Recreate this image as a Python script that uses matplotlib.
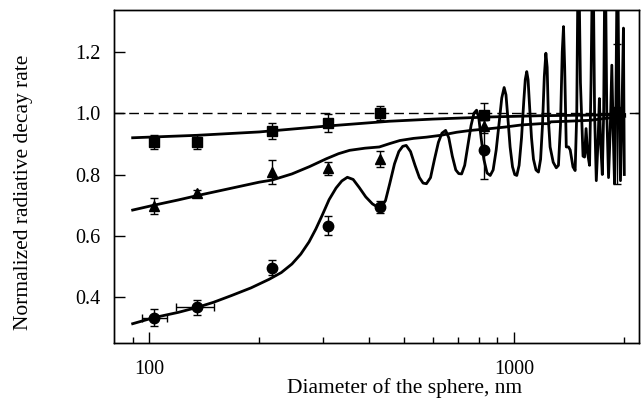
import numpy as np
import matplotlib.pyplot as plt
from matplotlib.ticker import FixedLocator, NullFormatter

plt.rcParams['font.family'] = ['Liberation Serif', 'DejaVu Serif']
plt.rcParams['font.size'] = 15.5

# pomiary: srednice kul (nm)
d_exp = [103, 135, 217, 308, 429, 826, 1920]

# kwadraty
sq_y = [0.906, 0.906, 0.942, 0.968, 1.001, 0.993, 1.000]
sq_err = [0.024, 0.022, 0.025, 0.030, 0.023, 0.015, 0.020]

# trojkaty
tr_y = [0.698, 0.739, 0.808, 0.820, 0.851, 0.957, 0.990]
tr_err = [0.027, 0.010, 0.040, 0.020, 0.025, 0.020, 0.020]

# kola (bledy niesymetryczne)
ci_y = [0.333, 0.366, 0.496, 0.633, 0.693, 0.879, 1.000]
ci_err_lo = [0.027, 0.023, 0.025, 0.030, 0.020, 0.093, 0.230]
ci_err_hi = [0.027, 0.023, 0.025, 0.030, 0.020, 0.155, 0.225]
ci_xerr_lo = [7.6, 16.8, 0, 0, 0, 0, 0]
ci_xerr_hi = [8.8, 15.5, 0, 0, 0, 0, 0]

# krzywe teoretyczne
top_d = [90, 135, 200, 305, 456, 600, 861, 1181, 1600, 2010]
top_y = [0.920, 0.928, 0.939, 0.958, 0.974, 0.981, 0.988, 0.992, 0.994, 0.996]

mid_d = [90, 103, 120, 135, 160, 200, 217, 246, 275, 305, 330, 354, 390, 427,
         456, 486, 530, 575, 629, 696, 760, 861, 945, 1050, 1181, 1245, 1260,
         1400, 1615, 1800, 2010]
mid_y = [0.684, 0.700, 0.717, 0.731, 0.750, 0.775, 0.782, 0.802, 0.826, 0.851,
         0.868, 0.879, 0.886, 0.890, 0.901, 0.911, 0.918, 0.922, 0.928, 0.938,
         0.944, 0.950, 0.955, 0.962, 0.966, 0.966, 0.972, 0.974, 0.977, 0.984,
         0.990]

bot_d = [90, 103, 120, 135, 150, 168, 190, 213, 230, 246, 260, 274, 286, 298,
         311, 325, 337, 349, 362, 376, 392, 409, 421, 432, 444, 456, 470, 483,
         495, 506, 520, 535, 550, 563, 575, 590, 605, 620, 634, 649, 662, 677,
         692, 705, 718, 732, 748, 762, 776, 789, 800, 812, 826, 843, 860, 876,
         893, 910, 925, 939, 950, 962, 975, 990, 1004, 1017, 1032, 1048, 1063,
         1073, 1083, 1092, 1103, 1116, 1130, 1148, 1166, 1182, 1196, 1210, 1222,
         1232, 1242, 1255, 1280, 1305, 1323, 1340, 1355, 1366, 1376, 1390, 1410,
         1425, 1450, 1470, 1485, 1500, 1520, 1545, 1560, 1575, 1590, 1610, 1625,
         1644, 1662, 1680, 1700, 1713, 1727, 1745, 1760, 1776, 1795, 1815, 1835,
         1853, 1868, 1885, 1900, 1920, 1940, 1957, 1975, 1994, 2005]
bot_y = [0.313, 0.333, 0.350, 0.366, 0.383, 0.405, 0.430, 0.458, 0.480, 0.508,
         0.540, 0.580, 0.622, 0.668, 0.718, 0.756, 0.779, 0.791, 0.784, 0.758,
         0.727, 0.704, 0.695, 0.693, 0.715, 0.770, 0.835, 0.875, 0.892, 0.895,
         0.875, 0.830, 0.790, 0.772, 0.770, 0.790, 0.850, 0.905, 0.935, 0.944,
         0.920, 0.860, 0.815, 0.803, 0.802, 0.830, 0.900, 0.960, 1.000, 1.010,
         0.985, 0.920, 0.850, 0.805, 0.797, 0.815, 0.880, 0.970, 1.050, 1.084,
         1.060, 0.980, 0.890, 0.825, 0.800, 0.797, 0.830, 0.920, 1.040, 1.110,
         1.136, 1.110, 1.020, 0.920, 0.850, 0.815, 0.808, 0.850, 0.960, 1.120,
         1.196, 1.150, 0.977, 0.890, 0.840, 0.822, 0.830, 0.960, 1.200, 1.283,
         1.150, 0.890, 0.890, 0.880, 0.825, 0.813, 1.000, 1.600, 1.100, 0.860,
         0.857, 0.950, 0.870, 0.830, 1.100, 1.600, 1.000, 0.780, 0.920, 1.048,
         0.900, 0.800, 1.000, 1.600, 1.000, 0.790, 0.950, 1.157, 0.950, 0.770,
         1.000, 1.600, 1.000, 0.780, 1.000, 1.278, 0.800]

fig = plt.figure(figsize=(6.43, 4.01), dpi=100)
ax = fig.add_axes([0.1773, 0.1446, 0.8165, 0.8304])

ax.axhline(1.0, color='black', lw=1.0, dashes=(7, 3.6), zorder=1)

ax.plot(top_d, top_y, color='black', lw=2.0, zorder=3)
ax.plot(mid_d, mid_y, color='black', lw=2.0, zorder=3)
ax.plot(bot_d, bot_y, color='black', lw=2.0, zorder=3)

eb = dict(color='black', ecolor='black', elinewidth=1.0, capsize=3.2,
          capthick=1.0, linestyle='none', zorder=4)
ax.errorbar(d_exp, sq_y, yerr=sq_err, marker='s', ms=6.5, **eb)
ax.errorbar(d_exp, tr_y, yerr=tr_err, marker='^', ms=7.5, **eb)
ax.errorbar(d_exp, ci_y, yerr=[ci_err_lo, ci_err_hi],
            xerr=[ci_xerr_lo, ci_xerr_hi], marker='o', ms=7.5, **eb)

ax.set_xscale('log')
ax.set_xlim(80, 2200)
ax.set_ylim(0.25, 1.337)

ax.xaxis.set_major_locator(FixedLocator([100, 1000]))
ax.xaxis.set_minor_locator(FixedLocator([90, 200, 300, 400, 500, 600, 700,
                                         800, 900, 2000]))
ax.xaxis.set_minor_formatter(NullFormatter())
ax.set_xticklabels(['100', '1000'], fontsize=14.5)
ax.set_yticks([0.4, 0.6, 0.8, 1.0, 1.2])
ax.set_yticklabels(['0.4', '0.6', '0.8', '1.0', '1.2'], fontsize=14.5)

ax.tick_params(axis='x', which='major', direction='in', length=8, width=1,
               pad=12.5, top=False)
ax.tick_params(axis='x', which='minor', direction='in', length=4.3, width=1,
               top=False)
ax.tick_params(axis='y', which='major', direction='in', length=8, width=1,
               pad=10, right=False)

# kreska po prawej przy 1.0
ax2 = ax.twinx()
ax2.set_ylim(ax.get_ylim())
ax2.set_yticks([1.0])
ax2.set_yticklabels([])
ax2.tick_params(axis='y', direction='in', length=3, width=1)

for a in (ax, ax2):
    for s in a.spines.values():
        s.set_linewidth(1.0)

ax.set_xlabel('Diameter of the sphere, nm')
ax.xaxis.set_label_coords(0.554, -0.105)
ax.set_ylabel('Normalized radiative decay rate')
ax.yaxis.set_label_coords(-0.155, 0.454)

fig.savefig('out.png', dpi=100)
